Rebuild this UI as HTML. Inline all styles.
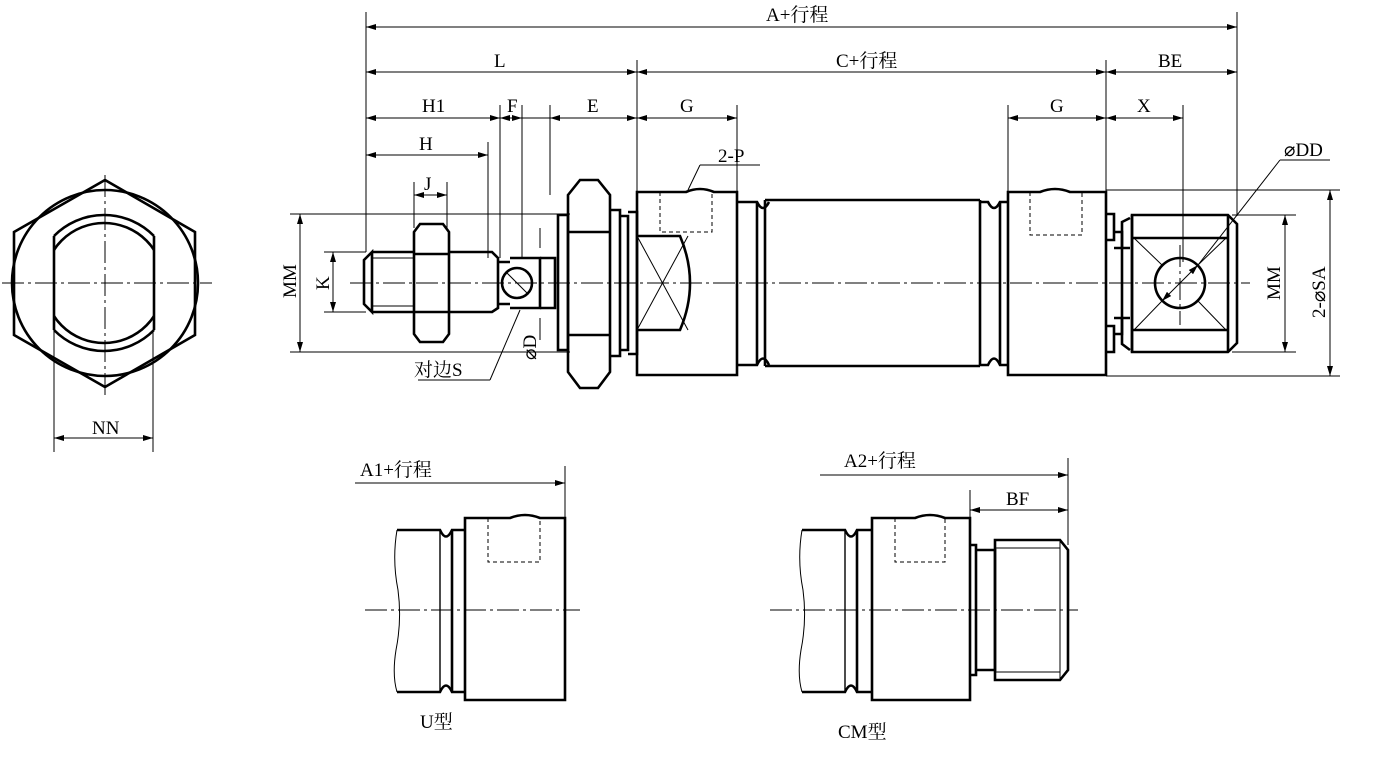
<!DOCTYPE html>
<html><head><meta charset="utf-8"><style>
html,body{margin:0;padding:0;background:#fff;}
svg{display:block;}
text{font-family:"Liberation Serif","Noto Serif CJK SC",serif;font-size:19px;fill:#000;}
.t{stroke:#000;stroke-width:2.6;fill:none;}
.n{stroke:#000;stroke-width:1;fill:none;}
.c{stroke:#000;stroke-width:1;fill:none;stroke-dasharray:22 4 3 4;}
.h{stroke:#000;stroke-width:1;fill:none;stroke-dasharray:4 3;}
</style></head><body>
<svg width="1400" height="759" viewBox="0 0 1400 759" xmlns="http://www.w3.org/2000/svg">
<defs>
<marker id="a" viewBox="0 0 10 6" refX="10" refY="3" markerWidth="10" markerHeight="6" orient="auto-start-reverse" markerUnits="userSpaceOnUse"><path d="M0,0 L10,3 L0,6 z" fill="#000"/></marker>
<clipPath id="band"><rect x="54" y="150" width="100" height="260"/></clipPath>
</defs>

<!-- LEFT END VIEW -->
<line class="c" x1="2" y1="283" x2="212" y2="283"/>
<line class="c" x1="105" y1="175" x2="105" y2="395"/>
<polygon class="t" points="105,180 195,232 195,335 105,387 14,335 14,232"/>
<circle class="t" cx="105" cy="283" r="93"/>
<line class="t" x1="54" y1="236" x2="54" y2="330"/>
<line class="t" x1="154" y1="236" x2="154" y2="330"/>
<path class="t" d="M54,236 A70,70 0 0 1 154,236"/>
<path class="t" d="M54,330 A70,70 0 0 0 154,330"/>
<circle class="t" cx="104" cy="283" r="60" clip-path="url(#band)"/>
<line class="n" x1="54" y1="330" x2="54" y2="452"/>
<line class="n" x1="153" y1="330" x2="153" y2="452"/>
<line class="n" x1="54" y1="438" x2="153" y2="438" marker-start="url(#a)" marker-end="url(#a)"/>
<text x="92" y="434">NN</text>

<!-- TOP DIMENSIONS -->
<line class="n" x1="366" y1="12" x2="366" y2="252"/>
<line class="n" x1="1237" y1="12" x2="1237" y2="216"/>
<line class="n" x1="366" y1="27" x2="1237" y2="27" marker-start="url(#a)" marker-end="url(#a)"/>
<text x="766" y="21">A+行程</text>
<line class="n" x1="637" y1="60" x2="637" y2="192"/>
<line class="n" x1="1106" y1="60" x2="1106" y2="192"/>
<line class="n" x1="366" y1="72" x2="637" y2="72" marker-start="url(#a)" marker-end="url(#a)"/>
<line class="n" x1="637" y1="72" x2="1106" y2="72" marker-start="url(#a)" marker-end="url(#a)"/>
<line class="n" x1="1106" y1="72" x2="1237" y2="72" marker-start="url(#a)" marker-end="url(#a)"/>
<text x="494" y="67">L</text>
<text x="836" y="67">C+行程</text>
<text x="1158" y="67">BE</text>

<line class="n" x1="500" y1="105" x2="500" y2="258"/>
<line class="n" x1="522" y1="105" x2="522" y2="258"/>
<line class="n" x1="550" y1="105" x2="550" y2="195"/>
<line class="n" x1="737" y1="105" x2="737" y2="195"/>
<line class="n" x1="1008" y1="105" x2="1008" y2="192"/>
<line class="n" x1="1183" y1="105" x2="1183" y2="262"/>
<line class="n" x1="366" y1="118" x2="500" y2="118" marker-start="url(#a)" marker-end="url(#a)"/>
<line class="n" x1="500" y1="118" x2="522" y2="118" marker-start="url(#a)" marker-end="url(#a)"/>
<line class="n" x1="522" y1="118" x2="550" y2="118"/>
<line class="n" x1="550" y1="118" x2="637" y2="118" marker-start="url(#a)" marker-end="url(#a)"/>
<line class="n" x1="637" y1="118" x2="737" y2="118" marker-start="url(#a)" marker-end="url(#a)"/>
<line class="n" x1="1008" y1="118" x2="1106" y2="118" marker-start="url(#a)" marker-end="url(#a)"/>
<line class="n" x1="1106" y1="118" x2="1183" y2="118" marker-start="url(#a)" marker-end="url(#a)"/>
<text x="422" y="112">H1</text>
<text x="507" y="112">F</text>
<text x="587" y="112">E</text>
<text x="680" y="112">G</text>
<text x="1050" y="112">G</text>
<text x="1137" y="112">X</text>

<line class="n" x1="488" y1="142" x2="488" y2="258"/>
<line class="n" x1="366" y1="155" x2="488" y2="155" marker-start="url(#a)" marker-end="url(#a)"/>
<text x="419" y="150">H</text>
<line class="n" x1="414" y1="182" x2="414" y2="228"/>
<line class="n" x1="447" y1="182" x2="447" y2="228"/>
<line class="n" x1="414" y1="195" x2="447" y2="195" marker-start="url(#a)" marker-end="url(#a)"/>
<text x="424" y="190">J</text>

<!-- LEFT MM / K -->
<line class="n" x1="290" y1="214" x2="570" y2="214"/>
<line class="n" x1="290" y1="352" x2="570" y2="352"/>
<line class="n" x1="300" y1="214" x2="300" y2="352" marker-start="url(#a)" marker-end="url(#a)"/>
<text transform="translate(296,298) rotate(-90)">MM</text>
<line class="n" x1="324" y1="252" x2="366" y2="252"/>
<line class="n" x1="324" y1="312" x2="366" y2="312"/>
<line class="n" x1="333" y1="252" x2="333" y2="312" marker-start="url(#a)" marker-end="url(#a)"/>
<text transform="translate(329,290) rotate(-90)">K</text>

<!-- CENTERLINE -->
<line class="c" x1="350" y1="283" x2="1250" y2="283"/>

<!-- ROD THREAD END -->
<path class="t" d="M372,252 L414,252 M372,312 L414,312 M372,252 L364,260 L364,304 L372,312 Z"/>
<line class="n" x1="372" y1="258" x2="414" y2="258"/>
<line class="n" x1="372" y1="306" x2="414" y2="306"/>
<!-- jam nut -->
<path class="t" d="M414,232 L420,224 L443,224 L449,232 L449,334 L443,342 L420,342 L414,334 Z"/>
<line class="t" x1="414" y1="254" x2="449" y2="254"/>
<line class="t" x1="414" y1="312" x2="449" y2="312"/>
<!-- rod -->
<path class="t" d="M449,252 L492,252 L498,258 L498,308 L492,312 L449,312"/>
<path class="t" d="M498,262 L510,262 M498,304 L510,304 M510,258 L540,258 L540,308 L510,308"/>
<circle class="t" cx="517" cy="283" r="15"/>
<line class="n" x1="506" y1="272" x2="528" y2="294"/>
<path class="t" d="M540,258 L555,258 L555,308 L540,308"/>
<line class="n" x1="540" y1="228" x2="540" y2="248"/>
<line class="n" x1="540" y1="318" x2="540" y2="340"/>
<text transform="translate(536,360) rotate(-90)">⌀D</text>
<line class="n" x1="490" y1="380" x2="520" y2="310"/>
<line class="n" x1="418" y1="380" x2="490" y2="380"/>
<text x="414" y="376">对边S</text>

<!-- BIG NUT -->
<path class="t" d="M558,215 L568,215 L568,350 L558,350 Z"/>
<path class="t" d="M568,195 L580,180 L598,180 L610,195 L610,372 L598,388 L580,388 L568,372 Z"/>
<line class="t" x1="568" y1="232" x2="610" y2="232"/>
<line class="t" x1="568" y1="335" x2="610" y2="335"/>
<path class="t" d="M610,210 L620,210 L620,356 L610,356"/>
<path class="t" d="M620,216 L628,216 L628,350 L620,350"/>
<path class="t" d="M628,212 L637,212 L637,354 L628,354"/>

<!-- FRONT COVER -->
<path class="t" d="M637,192 L686,192 Q700,186 714,192 L737,192 L737,375 L637,375 Z"/>
<path class="h" d="M660,192 L660,232 L712,232 L712,192"/>
<path class="t" d="M637,236 L680,236 Q700,283 680,330 L637,330"/>
<line class="n" x1="637" y1="236" x2="688" y2="330"/>
<line class="n" x1="637" y1="330" x2="688" y2="236"/>
<line class="n" x1="688" y1="190" x2="700" y2="165"/>
<line class="n" x1="700" y1="165" x2="760" y2="165"/>
<text x="718" y="162">2-P</text>
<!-- groove + tube -->
<path class="t" d="M737,202 L757,202 Q763,214 769,202 M737,365 L757,365 Q763,352 769,365"/>
<line class="t" x1="757" y1="202" x2="757" y2="365"/>
<path class="t" d="M765,200 L980,200 M765,366 L980,366 M765,200 L765,366 M980,200 L980,366"/>
<path class="t" d="M980,202 L988,202 Q994,214 1000,202 L1008,202 M980,365 L988,365 Q994,352 1000,365 L1008,365"/>
<line class="t" x1="1000" y1="202" x2="1000" y2="365"/>

<!-- REAR COVER -->
<path class="t" d="M1008,192 L1040,192 Q1055,186 1070,192 L1106,192 L1106,375 L1008,375 Z"/>
<path class="h" d="M1030,192 L1030,235 L1082,235 L1082,192"/>
<path class="t" d="M1106,214 L1114,214 L1114,240 L1106,240 M1106,326 L1114,326 L1114,352 L1106,352"/>
<path class="t" d="M1114,232 L1122,232 L1122,248 L1114,248 M1114,318 L1122,318 L1122,334 L1114,334"/>
<!-- clevis -->
<path class="t" d="M1130,218 L1122,222 L1122,344 L1130,350 M1122,248 L1130,248 M1122,318 L1130,318"/>
<path class="t" d="M1132,215 L1228,215 L1237,224 L1237,343 L1228,352 L1132,352 Z"/>
<line class="t" x1="1132" y1="215" x2="1132" y2="352"/>
<line class="t" x1="1132" y1="238" x2="1228" y2="238"/>
<line class="t" x1="1132" y1="330" x2="1228" y2="330"/>
<line class="t" x1="1228" y1="215" x2="1228" y2="352"/>
<line class="n" x1="1134" y1="238" x2="1162" y2="265"/>
<line class="n" x1="1226" y1="238" x2="1198" y2="265"/>
<line class="n" x1="1134" y1="330" x2="1162" y2="301"/>
<line class="n" x1="1226" y1="330" x2="1198" y2="301"/>
<line class="c" x1="1180" y1="245" x2="1180" y2="325"/>
<circle class="t" cx="1180" cy="283" r="25"/>
<line class="n" x1="1162" y1="301" x2="1198" y2="265" marker-start="url(#a)" marker-end="url(#a)"/>
<line class="n" x1="1198" y1="265" x2="1280" y2="160"/>
<line class="n" x1="1280" y1="160" x2="1330" y2="160"/>
<text x="1284" y="156">⌀DD</text>

<!-- RIGHT DIMS -->
<line class="n" x1="1232" y1="215" x2="1296" y2="215"/>
<line class="n" x1="1232" y1="352" x2="1296" y2="352"/>
<line class="n" x1="1285" y1="215" x2="1285" y2="352" marker-start="url(#a)" marker-end="url(#a)"/>
<text transform="translate(1280,300) rotate(-90)">MM</text>
<line class="n" x1="1106" y1="190" x2="1340" y2="190"/>
<line class="n" x1="1106" y1="376" x2="1340" y2="376"/>
<line class="n" x1="1330" y1="190" x2="1330" y2="376" marker-start="url(#a)" marker-end="url(#a)"/>
<text transform="translate(1325,318) rotate(-90)">2-⌀SA</text>

<!-- U TYPE -->
<line class="n" x1="355" y1="483" x2="565" y2="483" marker-end="url(#a)"/>
<line class="n" x1="565" y1="466" x2="565" y2="518"/>
<text x="360" y="476">A1+行程</text>
<line class="c" x1="365" y1="610" x2="580" y2="610"/>
<path class="n" d="M397,530 Q392,560 398,590 Q402,620 396,650 Q392,675 397,692"/>
<path class="t" d="M397,530 L440,530 Q446,543 452,530 L465,530 M397,692 L440,692 Q446,679 452,692 L465,692"/>
<line class="t" x1="452" y1="530" x2="452" y2="692"/>
<line class="t" x1="440" y1="530" x2="440" y2="692" style="stroke-width:1.4"/>
<path class="t" d="M465,518 L510,518 Q525,512 540,518 L565,518 L565,700 L465,700 Z"/>
<path class="h" d="M488,518 L488,562 L540,562 L540,518"/>
<text x="420" y="728">U型</text>

<!-- CM TYPE -->
<line class="n" x1="820" y1="475" x2="1068" y2="475" marker-end="url(#a)"/>
<line class="n" x1="1068" y1="458" x2="1068" y2="545"/>
<text x="844" y="467">A2+行程</text>
<line class="n" x1="970" y1="490" x2="970" y2="520"/>
<line class="n" x1="970" y1="510" x2="1068" y2="510" marker-start="url(#a)" marker-end="url(#a)"/>
<text x="1006" y="505">BF</text>
<line class="c" x1="770" y1="610" x2="1078" y2="610"/>
<path class="n" d="M802,530 Q797,560 803,590 Q807,620 801,650 Q797,675 802,692"/>
<path class="t" d="M802,530 L845,530 Q851,543 857,530 L872,530 M802,692 L845,692 Q851,679 857,692 L872,692"/>
<line class="t" x1="857" y1="530" x2="857" y2="692"/>
<line class="t" x1="845" y1="530" x2="845" y2="692" style="stroke-width:1.4"/>
<path class="t" d="M872,518 L915,518 Q930,512 945,518 L970,518 L970,700 L872,700 Z"/>
<path class="h" d="M895,518 L895,562 L945,562 L945,518"/>
<path class="t" d="M970,545 L976,545 L976,675 L970,675 M976,550 L995,550 L995,670 L976,670"/>
<path class="t" d="M995,540 L1060,540 L1068,550 L1068,670 L1060,680 L995,680 Z"/>
<line class="n" x1="995" y1="548" x2="1060" y2="548"/>
<line class="n" x1="995" y1="672" x2="1060" y2="672"/>
<line class="n" x1="1060" y1="540" x2="1060" y2="680"/>
<text x="838" y="738">CM型</text>
</svg>
</body></html>
